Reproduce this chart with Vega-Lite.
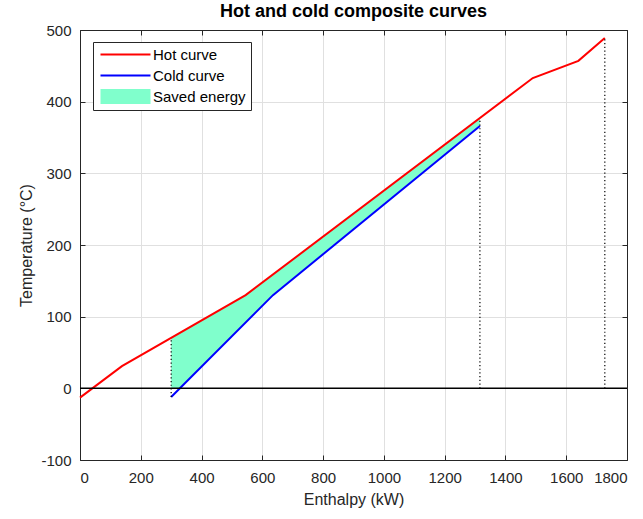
{
  "$schema": "https://vega.github.io/schema/vega-lite/v6.json",
  "autosize": "none",
  "width": 547,
  "height": 430,
  "padding": {"left": 80, "top": 30, "right": 16, "bottom": 59},
  "background": "white",
  "title": {"text": "Hot and cold composite curves", "font": "Liberation Sans", "fontSize": 18, "fontWeight": "bold", "color": "black", "anchor": "middle", "offset": 2},
  "config": {
    "view": {"stroke": "#262626", "strokeWidth": 1},
    "axis": {"labelFont": "Liberation Sans", "titleFont": "Liberation Sans", "labelFontSize": 15, "titleFontSize": 16, "labelColor": "#262626", "titleColor": "#262626", "titleFontWeight": "normal", "domainColor": "#262626", "tickColor": "#262626", "gridColor": "#e0e0e0", "gridOpacity": 1, "tickSize": -5, "labelExpr": "'' + datum.value"}
  },
  "resolve": {"axis": {"x": "independent", "y": "independent"}},
  "datasets": {
    "curves": [
      {"series": "Hot curve", "x": 0, "y": -13},
      {"series": "Hot curve", "x": 138, "y": 31},
      {"series": "Hot curve", "x": 545, "y": 130},
      {"series": "Hot curve", "x": 1490, "y": 433},
      {"series": "Hot curve", "x": 1640, "y": 457},
      {"series": "Hot curve", "x": 1727, "y": 489},
      {"series": "Cold curve", "x": 300, "y": -12},
      {"series": "Cold curve", "x": 635, "y": 130},
      {"series": "Cold curve", "x": 1316, "y": 366}
    ],
    "saved": [
      {"series": "Saved energy", "x": 300, "hot": 70, "cold": 0},
      {"series": "Saved energy", "x": 328, "hot": 78, "cold": 0},
      {"series": "Saved energy", "x": 545, "hot": 130, "cold": 92},
      {"series": "Saved energy", "x": 635, "hot": 159, "cold": 130},
      {"series": "Saved energy", "x": 1316, "hot": 377, "cold": 366}
    ],
    "dotted": [
      {"x": 300, "y": -12, "y2": 70},
      {"x": 1316, "y": 0, "y2": 377},
      {"x": 1727, "y": 0, "y2": 489}
    ],
    "zero": [{"y": 0}]
  },
  "layer": [
    {
      "data": {"name": "saved"},
      "mark": {"type": "area", "opacity": 1},
      "encoding": {
        "x": {"field": "x", "type": "quantitative", "scale": {"domain": [0, 1800], "nice": false}, "axis": {"title": "Enthalpy (kW)", "values": [0,200,400,600,800,1000,1200,1400,1600,1800], "grid": true, "orient": "bottom", "labelPadding": 15, "titlePadding": 6}},
        "y": {"field": "hot", "type": "quantitative", "scale": {"domain": [-100, 500], "nice": false}, "axis": {"title": "Temperature (°C)", "values": [-100,0,100,200,300,400,500], "grid": true, "orient": "left", "labelPadding": 14, "titlePadding": 6}},
        "y2": {"field": "cold"},
        "color": {"field": "series", "type": "nominal", "scale": {"domain": ["Hot curve", "Cold curve", "Saved energy"], "range": ["#ff0000", "#0000ff", "#80ffcc"]},
          "legend": {"title": null, "orient": "none", "legendX": 13, "legendY": 12, "strokeColor": "#262626", "fillColor": "white", "padding": 5, "labelFont": "Liberation Sans", "labelFontSize": 15, "labelColor": "black", "symbolSize": 100, "rowPadding": 5, "labelOffset": 40, "symbolOpacity": 1,
            "symbolType": "M-1,-0.2H9V0.2H-1Z",
            "encode": {"symbols": {"update": {"shape": {"signal": "datum.value === 'Saved energy' ? 'M-1,-1.5H9V1.5H-1Z' : 'M-1,-0.2H9V0.2H-1Z'"}, "fill": {"scale": "color", "field": "value"}, "strokeWidth": {"value": 0}}}}}}
      }
    },
    {
      "data": {"name": "curves"},
      "mark": {"type": "line", "strokeWidth": 2},
      "encoding": {
        "x": {"field": "x", "type": "quantitative", "axis": null},
        "y": {"field": "y", "type": "quantitative", "axis": null},
        "color": {"field": "series", "type": "nominal"},
        "order": {"field": "x"}
      }
    },
    {
      "data": {"name": "zero"},
      "mark": {"type": "rule", "color": "black", "strokeWidth": 1.5},
      "encoding": {"y": {"field": "y", "type": "quantitative", "axis": {"orient": "right", "labels": false, "title": null, "grid": false, "values": [-100,0,100,200,300,400,500]}}}
    },
    {
      "data": {"name": "dotted"},
      "mark": {"type": "rule", "color": "black", "strokeWidth": 1.2, "strokeDash": [1.2, 2.5]},
      "encoding": {
        "x": {"field": "x", "type": "quantitative", "axis": {"orient": "top", "labels": false, "title": null, "grid": false, "values": [0,200,400,600,800,1000,1200,1400,1600,1800]}},
        "y": {"field": "y", "type": "quantitative", "axis": null},
        "y2": {"field": "y2"}
      }
    }
  ]
}
